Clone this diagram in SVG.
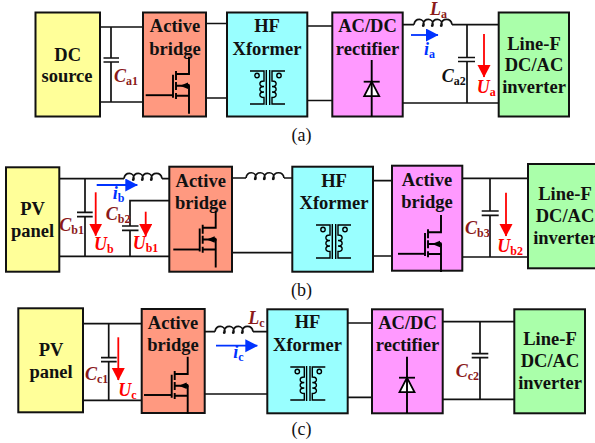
<svg xmlns="http://www.w3.org/2000/svg" width="595" height="443" viewBox="0 0 595 443">
<style>
text{font-family:"Liberation Serif","Times New Roman",serif}
.b{fill:none;stroke:#000;stroke-width:1.9}
.box{stroke:#111;stroke-width:2}
.y{fill:#ffff99}.s{fill:#ff9980}.c{fill:#99ffff}.p{fill:#ff99ff}.g{fill:#aaffaa}
.w{fill:none;stroke:#111;stroke-width:1.7}
.t{font-size:18.5px;font-weight:bold;text-anchor:middle;fill:#111}
.cap{font-size:18px;fill:#111;text-anchor:middle}
.l{font-size:18px;font-weight:bold;font-style:italic}
.l tspan{font-size:12px;font-style:normal}
.dr{fill:#8b1a1a}.bl{fill:#111}.re{fill:#ff0000}.bu{fill:#0033ff}
.ra{stroke:#ff0000;stroke-width:1.8;fill:none}
.ba{stroke:#0033ff;stroke-width:1.8;fill:none}
.x{fill:none;stroke:#000;stroke-width:1.4}
</style>
<defs>
<marker id="rh" markerUnits="userSpaceOnUse" markerWidth="13" markerHeight="14" refX="12" refY="6.5" orient="auto"><path d="M0 0L12.5 6.5L0 13Z" fill="#ff0000"/></marker>
<marker id="bh" markerUnits="userSpaceOnUse" markerWidth="13" markerHeight="14" refX="12" refY="6.5" orient="auto"><path d="M0 0L12.5 6.5L0 13Z" fill="#0033ff"/></marker>
<path id="ind" class="w" d="M0 0C1 -7 10 -7 10 0C10 2 8 2 9 0C10 -7 19 -7 19 0C19 2 17 2 18 0C19 -7 28 -7 28 0C28 2 26 2 27 0C28 -7 37 -7 38 0"/>
<g id="fet" class="b">
<path d="M-16 18V41M-13 14.3V23.3M-13 25.3V33.3M-13 36.3V42.3M-13 17.3H0V0M-13 39H0M0 29V57M-13 29H-3"/>
<path d="M-9 29L-1 25.8V32.2Z" fill="#000" stroke="none"/>
<circle cx="-1" cy="29" r="2" fill="#000" stroke="none"/>
</g>
<g id="xf">
<path class="x" d="M-1.700 0V35M1.700 0V35M-18 1H-4V11c-5.500 0 -5.500 5.500 0 5.500c-5.500 0 -5.500 5.500 0 5.500c-5.500 0 -5.500 5.500 0 5.500V34H-18M17 1H4V11c5.500 0 5.500 5.500 0 5.500c5.500 0 5.500 5.500 0 5.500c5.500 0 5.500 5.500 0 5.500V34H17"/>
<circle class="x" cx="-11" cy="5.500" r="2.200"/>
<circle class="x" cx="11" cy="5.500" r="2.200"/>
</g>
<g id="di">
<path d="M-7.500 14.500H7.500L0 0Z" fill="#fff" stroke="#000" stroke-width="1.800"/>
<path d="M-8 0H8" stroke="#000" stroke-width="1.800"/>
</g>
</defs>

<g id="connectors">
<path class="w" d="M100 27H143M100 102H143M111 27V58M111 62V102M103.500 58H119M103.500 62H119"/>
<path class="w" d="M206 23.500H227M206 98H227M307 26H332M307 100.500H332"/>
<path class="w" d="M403 24.700H414M452 24.700H499M403 103H499M467 24.700V57.500M467 61.500V103M458 57.500H475M458 61.500H475"/>
<use href="#ind" x="414" y="24.700"/>
<path class="w" d="M59 178.700H124M162 178.700H169M59 256.300H169M85 178.700V212.300M85 216.700V256.300M77 212.300H92.700M77 216.700H92.700M169 200.700H130V226M130 230.300V256.300M122 226H138.500M122 230.300H138.500"/>
<use href="#ind" x="124" y="178.700"/>
<path class="w" d="M232 178H246M284 178H292M232 252.700H292M373 180.700H392M373 256H392"/>
<use href="#ind" x="246" y="178"/>
<path class="w" d="M462 178.300H528M462 257H528M490 178.300V211M490 215.300V257M481.700 211H498.700M481.700 215.300H498.700"/>
<path class="w" d="M83 323.700H142M83 400.300H142M108.700 323.700V357.700M108.700 361.700V400.300M101 357.700H116.700M101 361.700H116.700"/>
<path class="w" d="M205 331.700H215M253 331.700H267M205 394H267M348 323H372M348 397.300H372"/>
<use href="#ind" x="215" y="331.700"/>
<path class="w" d="M443 321.700H514M443 399.300H514M480 321.700V353.700M480 357.700V399.300M471.700 353.700H488.300M471.700 357.700H488.300"/>
</g>

<g id="a-dc-source"><rect class="box y" x="35.500" y="12.500" width="64.500" height="104"/><text class="t" x="67.700" y="60.700">DC</text><text class="t" x="67" y="82">source</text></g>
<g id="a-active-bridge"><rect class="box s" x="143" y="12.500" width="63" height="104"/><text class="t" x="175" y="32">Active</text><text class="t" x="175" y="55">bridge</text><use href="#fet" x="189" y="56.700"/><path class="b" d="M145.700 95.200H173"/></g>
<g id="a-hf-xformer"><rect class="box c" x="227" y="12.500" width="80.300" height="104"/><text class="t" x="267" y="32">HF</text><text class="t" x="267" y="55">Xformer</text><use href="#xf" x="268" y="70"/></g>
<g id="a-rectifier"><rect class="box p" x="332.300" y="12.500" width="70.400" height="104"/><text class="t" x="367.500" y="32">AC/DC</text><text class="t" x="367.500" y="55">rectifier</text><path class="b" d="M371.700 60V116.500"/><use href="#di" x="371.700" y="81.700"/><path class="b" d="M371.700 81V97"/></g>
<g id="a-inverter"><rect class="box g" x="498.700" y="12.500" width="70.300" height="104"/><text class="t" x="534" y="50">Line-F</text><text class="t" x="534" y="71">DC/AC</text><text class="t" x="534" y="92.700">inverter</text></g>

<g id="b-pv-panel"><rect class="box y" x="6" y="167.300" width="53.300" height="104.400"/><text class="t" x="32.500" y="215">PV</text><text class="t" x="32.500" y="237">panel</text></g>
<g id="b-active-bridge-1"><rect class="box s" x="169.300" y="166.700" width="62.700" height="105"/><text class="t" x="200.700" y="186.700">Active</text><text class="t" x="200.700" y="209">bridge</text><use href="#fet" x="215.700" y="210.500"/><path class="b" d="M173.300 249.500H199.700"/></g>
<g id="b-hf-xformer"><rect class="box c" x="292.300" y="166.700" width="80.700" height="105"/><text class="t" x="334" y="186.700">HF</text><text class="t" x="334" y="209">Xformer</text><use href="#xf" x="334" y="224"/></g>
<g id="b-active-bridge-2"><rect class="box p" x="392" y="165.700" width="70.300" height="105"/><text class="t" x="427" y="185.700">Active</text><text class="t" x="427" y="208.300">bridge</text><use href="#fet" x="441" y="215"/><path class="b" d="M398 253.800H425"/></g>
<g id="b-inverter"><rect class="box g" x="528" y="164" width="72" height="104.300"/><text class="t" x="565" y="200">Line-F</text><text class="t" x="565" y="222.300">DC/AC</text><text class="t" x="565" y="244.300">inverter</text></g>

<g id="c-pv-panel"><rect class="box y" x="18.300" y="308.300" width="64.700" height="104"/><text class="t" x="51" y="355.700">PV</text><text class="t" x="51" y="378.300">panel</text></g>
<g id="c-active-bridge"><rect class="box s" x="141.700" y="309" width="63" height="104"/><text class="t" x="173" y="329">Active</text><text class="t" x="173" y="351">bridge</text><use href="#fet" x="187.700" y="356.700"/><path class="b" d="M144 395H171.700"/></g>
<g id="c-hf-xformer"><rect class="box c" x="267.300" y="309.300" width="80.400" height="104"/><text class="t" x="307.500" y="328.300">HF</text><text class="t" x="307.500" y="351">Xformer</text><use href="#xf" x="308.300" y="366"/></g>
<g id="c-rectifier"><rect class="box p" x="372" y="309.300" width="70.700" height="104"/><text class="t" x="407.500" y="329">AC/DC</text><text class="t" x="407.500" y="351">rectifier</text><path class="b" d="M407 356.700V413"/><use href="#di" x="407" y="377.700"/><path class="b" d="M407 377V393"/></g>
<g id="c-inverter"><rect class="box g" x="514.300" y="309.300" width="70.700" height="104"/><text class="t" x="550" y="345">Line-F</text><text class="t" x="550" y="366.700">DC/AC</text><text class="t" x="550" y="389.300">inverter</text></g>

<g id="arrows">
<path class="ba" marker-end="url(#bh)" d="M411 35H438"/>
<path class="ra" marker-end="url(#rh)" d="M484 34V77"/>
<path class="ba" marker-end="url(#bh)" d="M96.700 185H137.300"/>
<path class="ra" marker-end="url(#rh)" d="M95.700 192.300V235.700"/>
<path class="ra" marker-end="url(#rh)" d="M145.700 211.700V236"/>
<path class="ra" marker-end="url(#rh)" d="M506 192.700V236"/>
<path class="ra" marker-end="url(#rh)" d="M118.300 337.300V380"/>
<path class="ba" marker-end="url(#bh)" d="M216 345.700H257.300"/>
</g>

<g id="labels">
<text class="l dr" x="114" y="81.700">C<tspan dy="3">a1</tspan></text>
<text class="l bl" x="441.700" y="81.700">C<tspan dy="3">a2</tspan></text>
<text class="l re" x="476.700" y="93">U<tspan dy="3">a</tspan></text>
<text class="l dr" x="430" y="15">L<tspan dy="3">a</tspan></text>
<text class="l bu" x="424" y="55">i<tspan dy="3">a</tspan></text>
<text class="l bu" x="112.700" y="199">i<tspan dy="3">b</tspan></text>
<text class="l dr" x="59.300" y="231">C<tspan dy="3">b1</tspan></text>
<text class="l dr" x="105.700" y="219.500">C<tspan dy="3">b2</tspan></text>
<text class="l re" x="94" y="250">U<tspan dy="3">b</tspan></text>
<text class="l re" x="132.700" y="249">U<tspan dy="3">b1</tspan></text>
<text class="l dr" x="465" y="234">C<tspan dy="3">b3</tspan></text>
<text class="l re" x="497.300" y="252">U<tspan dy="3">b2</tspan></text>
<text class="l re" x="118.300" y="395.500">U<tspan dy="3">c</tspan></text>
<text class="l dr" x="85" y="379.500">C<tspan dy="3">c1</tspan></text>
<text class="l dr" x="248.300" y="324">L<tspan dy="3">c</tspan></text>
<text class="l bu" x="233.300" y="357.500">i<tspan dy="3">c</tspan></text>
<text class="l dr" x="455.700" y="376.500">C<tspan dy="3">c2</tspan></text>
<text class="cap" x="301.500" y="140.500">(a)</text>
<text class="cap" x="301.500" y="295.500">(b)</text>
<text class="cap" x="301.500" y="435">(c)</text>
</g>
</svg>
